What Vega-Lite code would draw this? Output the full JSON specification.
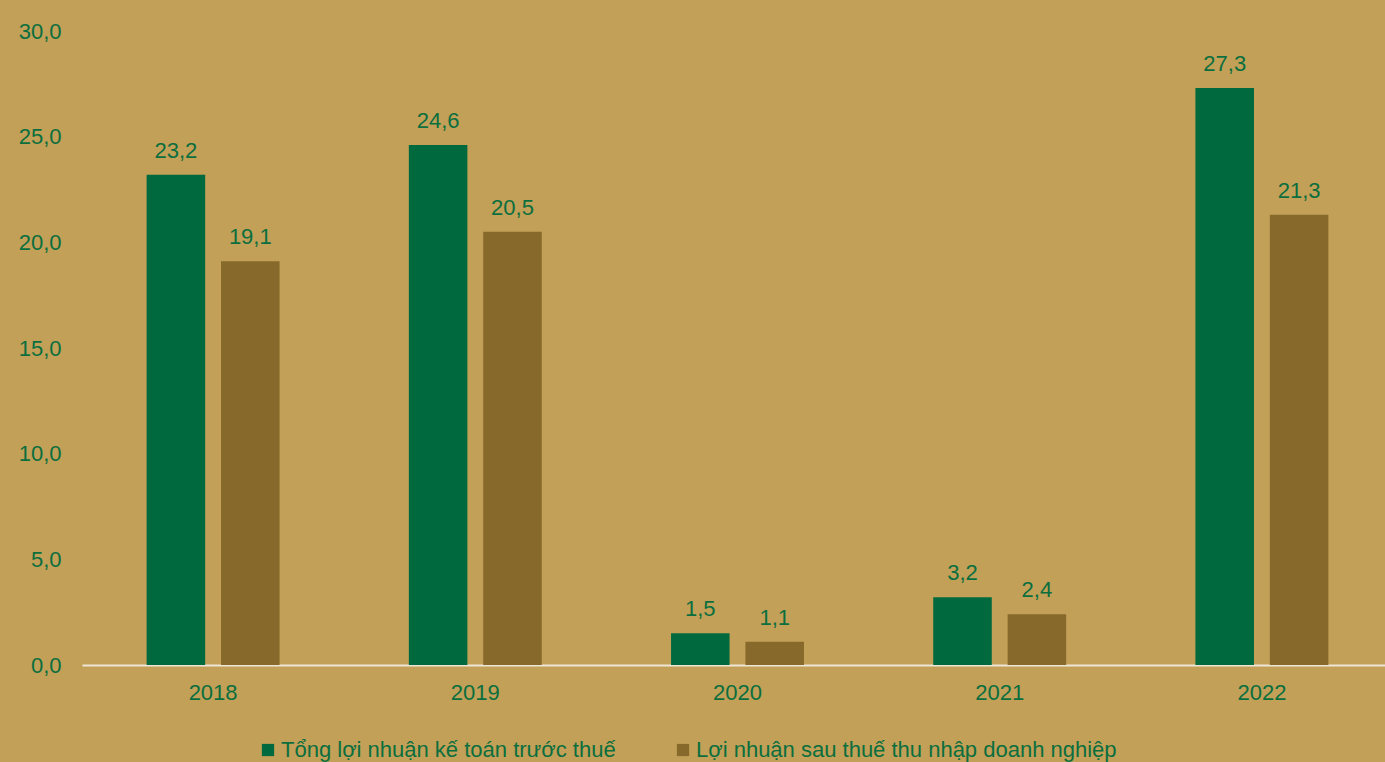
{
  "$schema": "https://vega.github.io/schema/vega-lite/v6.json",
  "width": 1311,
  "height": 634,
  "autosize": {"type": "none"},
  "padding": {"left": 82, "top": 31, "right": 0, "bottom": 97},
  "background": "#C2A057",
  "config": {
    "view": {"stroke": null},
    "locale": {"number": {"decimal": ",", "thousands": ".", "grouping": [3], "currency": ["", ""]}},
    "font": "Liberation Sans"
  },
  "data": {
    "values": [
      {"year": "2018", "series": "Tổng lợi nhuận kế toán trước thuế", "value": 23.2},
      {"year": "2018", "series": "Lợi nhuận sau thuế thu nhập doanh nghiệp", "value": 19.1},
      {"year": "2019", "series": "Tổng lợi nhuận kế toán trước thuế", "value": 24.6},
      {"year": "2019", "series": "Lợi nhuận sau thuế thu nhập doanh nghiệp", "value": 20.5},
      {"year": "2020", "series": "Tổng lợi nhuận kế toán trước thuế", "value": 1.5},
      {"year": "2020", "series": "Lợi nhuận sau thuế thu nhập doanh nghiệp", "value": 1.1},
      {"year": "2021", "series": "Tổng lợi nhuận kế toán trước thuế", "value": 3.2},
      {"year": "2021", "series": "Lợi nhuận sau thuế thu nhập doanh nghiệp", "value": 2.4},
      {"year": "2022", "series": "Tổng lợi nhuận kế toán trước thuế", "value": 27.3},
      {"year": "2022", "series": "Lợi nhuận sau thuế thu nhập doanh nghiệp", "value": 21.3}
    ]
  },
  "encoding": {
    "x": {
      "field": "year", "type": "nominal", "title": null,
      "scale": {"paddingInner": 0.493, "paddingOuter": 0.2465},
      "axis": {"labelAngle": 0, "ticks": false, "domainColor": "#EDE6D6", "domainWidth": 2, "labelColor": "#0B6E3E", "labelFontSize": 22, "labelPadding": 17, "labelFont": "Liberation Sans"}
    },
    "xOffset": {
      "field": "series", "type": "nominal",
      "sort": ["Tổng lợi nhuận kế toán trước thuế", "Lợi nhuận sau thuế thu nhập doanh nghiệp"],
      "scale": {"paddingInner": 0.213, "paddingOuter": 0}
    },
    "y": {
      "field": "value", "type": "quantitative", "title": null,
      "scale": {"domain": [0, 30], "nice": false},
      "axis": {"values": [0, 5, 10, 15, 20, 25, 30], "format": ".1f", "grid": false, "domain": false, "ticks": false, "labelColor": "#0B6E3E", "labelFontSize": 22, "labelPadding": 21, "labelFont": "Liberation Sans"}
    }
  },
  "layer": [
    {
      "mark": {"type": "bar"},
      "encoding": {
        "color": {
          "field": "series", "type": "nominal",
          "sort": ["Tổng lợi nhuận kế toán trước thuế", "Lợi nhuận sau thuế thu nhập doanh nghiệp"],
          "scale": {"domain": ["Tổng lợi nhuận kế toán trước thuế", "Lợi nhuận sau thuế thu nhập doanh nghiệp"], "range": ["#006A3E", "#876A2B"]},
          "legend": {
            "title": null, "orient": "none", "direction": "horizontal",
            "legendX": 175, "legendY": 708,
            "symbolType": "square", "symbolSize": 150, "symbolStrokeWidth": 0,
            "labelFontSize": 22, "labelColor": "#0B6E3E", "labelFont": "Liberation Sans",
            "columnPadding": 56, "labelOffset": 2, "labelLimit": 600
          }
        }
      }
    },
    {
      "mark": {"type": "text", "baseline": "alphabetic", "dy": -17, "fontSize": 22, "color": "#0B6E3E", "font": "Liberation Sans"},
      "encoding": {
        "text": {"field": "value", "type": "quantitative", "format": ".1f"}
      }
    }
  ]
}
